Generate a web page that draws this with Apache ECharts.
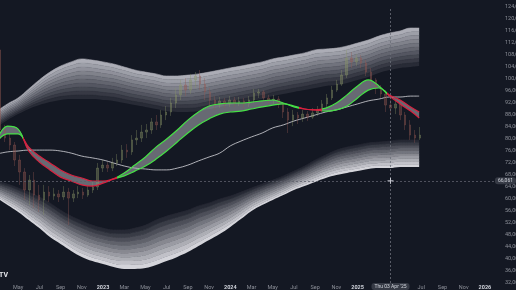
<!DOCTYPE html>
<html><head><meta charset="utf-8">
<script src="https://cdn.jsdelivr.net/npm/echarts@6/dist/echarts.min.js"></script>
<style>html,body{margin:0;padding:0;background:#141823;overflow:hidden}#c{width:516px;height:290px}</style>
</head><body><div id="c"></div>
<script>
// ---- data (prices in thousands of USD) ----
// month index: 0 = Jan 2022
const months = [2,3,4,5,6,7,8,9,10,11,12,13,14,15,16,17,18,19,20,21,22,23,24,25,26,27,28,29,30,31,32,33,34,35,36,37,38,39,40,41,41.8];
const upperTop = [89.3,91.7,93.7,96.7,99.7,102.3,104.3,105.7,106.7,106.3,105.7,105.0,104.0,103.0,102.3,101.7,101.0,101.0,101.3,101.7,102.3,103.0,103.7,104.3,105.0,105.7,106.7,107.3,108.0,108.7,109.7,110.0,110.3,111.0,112.0,113.0,114.3,115.3,116.0,117.0,117.0];
const upperBottom = [84.0,86.3,88.3,90.0,91.3,92.3,93.0,93.3,93.3,93.3,93.0,92.7,92.0,91.3,90.7,90.0,89.3,89.0,89.0,89.3,90.0,90.7,91.3,92.0,92.7,93.3,94.3,95.0,95.7,96.3,97.0,97.7,98.0,98.7,99.7,100.7,102.0,103.0,103.7,104.0,104.3];
const lowerTop = [66.0,65.0,63.7,62.3,60.7,58.7,56.3,54.3,52.7,51.3,50.3,49.7,49.7,50.3,51.3,53.0,54.3,55.3,56.3,57.7,58.7,60.0,61.0,62.3,63.7,65.0,66.3,67.7,69.3,71.0,73.0,74.7,76.3,77.3,78.0,78.7,79.0,79.3,79.7,79.7,79.7];
const lowerBottom = [60.3,58.0,55.7,53.0,50.3,47.3,45.0,42.7,40.7,39.3,38.3,37.3,36.7,36.7,37.0,38.0,39.3,40.7,42.3,44.3,46.3,48.3,50.7,53.3,56.0,58.0,59.7,61.3,63.0,64.3,65.7,67.0,68.0,68.7,69.3,70.0,70.3,70.3,70.7,70.7,70.7];
const fastMA = [79.7,84.3,83.3,76.0,72.3,69.7,67.3,66.0,64.7,64.3,65.3,66.7,68.7,71.3,74.0,77.3,80.0,83.0,86.3,89.0,91.0,91.7,92.0,92.0,92.3,92.7,93.0,92.0,90.7,90.0,89.7,90.3,92.0,94.7,97.7,99.7,97.7,94.3,91.7,89.3,87.0];
const slowMA = [79.0,81.7,81.7,77.3,74.3,72.0,69.7,68.0,67.0,66.0,66.0,66.7,67.7,69.3,71.0,73.3,76.0,79.0,82.0,84.7,86.7,88.3,89.0,89.3,90.0,90.7,91.3,91.7,91.0,90.0,89.7,89.3,89.7,91.0,93.7,96.3,97.0,94.7,93.0,90.7,89.0];
const longMA = [75.0,75.7,76.0,76.3,76.3,76.3,76.0,75.3,74.3,73.7,73.0,72.0,71.0,70.3,70.0,69.7,69.7,70.3,71.3,72.7,74.0,75.3,77.7,79.3,80.7,82.0,83.7,84.7,86.0,87.0,88.0,89.0,89.7,90.7,91.7,92.7,93.3,94.0,94.0,94.3,94.3];
// falling (red) stretches of the ribbon, month index ranges
const redRanges = [[4.46,13.3],[30.5,32.6],[38.8,99]];
// bi-weekly candles
const candleStart = 2.3, candleStep = 0.46;
const firstOpen = 109.7;
const closes = [83.0,80.3,78.0,73.0,69.0,63.0,66.3,61.3,59.7,62.3,61.0,61.7,60.7,62.3,60.3,61.7,62.3,61.3,63.0,64.0,70.3,71.3,70.3,72.0,73.0,76.3,75.7,79.7,80.3,82.3,83.0,85.7,84.7,88.0,89.0,92.0,94.7,98.0,96.3,99.7,101.0,98.3,95.7,93.0,91.7,92.7,91.7,93.0,92.0,92.7,91.7,93.0,95.3,95.7,93.7,93.0,93.3,91.7,89.0,86.3,88.0,87.0,88.3,87.3,88.7,89.7,91.7,93.7,96.3,98.3,101.3,107.0,105.7,107.0,105.3,102.3,99.7,97.0,95.0,91.3,90.3,91.7,88.0,84.7,81.3,80.3,81.3];
const highs = [117.0,84.7,82.0,79.0,74.7,70.3,68.0,69.0,64.7,64.7,64.3,63.7,63.0,64.3,63.7,63.0,64.3,63.7,64.3,65.7,72.0,73.0,72.3,73.7,75.0,78.0,78.3,81.3,83.0,84.7,85.0,87.0,88.0,89.7,91.0,93.7,97.0,99.7,100.3,101.7,102.3,103.0,100.3,97.0,94.3,94.0,93.7,94.3,94.0,94.0,93.7,94.3,96.7,96.7,96.3,94.7,94.7,94.3,92.3,90.3,89.7,89.0,89.7,89.3,90.3,91.0,93.0,95.0,97.7,99.7,103.0,109.7,109.0,108.3,108.0,106.3,103.7,100.3,98.0,96.3,93.0,93.0,92.3,89.0,86.3,83.0,84.0];
const lows = [79.7,79.0,76.3,71.0,64.7,59.7,58.0,57.0,55.7,54.7,59.0,59.7,59.0,59.7,51.3,59.0,60.3,60.0,60.7,62.0,63.0,69.0,69.0,69.3,71.0,72.0,73.7,74.7,78.0,79.0,80.3,81.7,83.0,83.7,86.3,87.7,90.3,93.0,94.3,95.0,97.0,96.3,93.0,91.0,89.7,90.3,90.3,90.7,90.7,91.0,90.3,90.7,92.0,93.7,92.3,91.7,91.7,90.3,87.0,82.0,84.3,85.0,85.7,86.0,86.7,87.7,89.0,90.7,93.0,95.7,97.7,100.3,103.7,104.3,103.7,101.0,97.7,95.0,93.7,89.0,88.3,88.3,86.3,83.0,79.7,78.7,79.7];
const lastPriceText = ['81,341', '14:42:31'];
const crossMonth = 39.1, crossPrice = 66061, crossDate = "Thu 03 Apr '25";
const monthTicks = [4,6,8,10,12,14,16,18,20,22,24,26,28,30,32,34,36,42,44,46,48];
const monthNames = ['', '', 'Mar', '', 'May', '', 'Jul', '', 'Sep', '', 'Nov', ''];
const yTicks = {min: 32000, max: 124000, step: 4000};

// ---- build ----
const K = 1000;
const T0 = Date.UTC(2022, 0, 1), MONTH = 365.25 / 12 * 86400000;
const tm = m => T0 + m * MONTH;
const chart = echarts.init(document.getElementById('c'), null, {renderer: 'canvas'});
const series = [];
const N = 10;
function mix(a, b, t) { return 'rgb(' + a.map((v, i) => Math.round(v + (b[i] - v) * t)).join(',') + ')'; }
function band(top, bot, name, cBot, cTop) {
  series.push({type: 'line', stack: name, data: months.map((m, i) => [tm(m), bot[i] * K]), smooth: 0.4,
    symbol: 'none', lineStyle: {width: 0, opacity: 0}, silent: true, z: 1});
  for (let k = 0; k < N; k++) {
    const c = mix(cBot, cTop, k / (N - 1));
    series.push({type: 'line', stack: name, data: months.map((m, i) => [tm(m), (top[i] - bot[i]) * K / N]),
      smooth: 0.4, symbol: 'none', lineStyle: {width: 0.6, color: c},
      areaStyle: {color: c, opacity: 1}, silent: true, z: 1});
  }
}
band(upperTop, upperBottom, 'up', [40, 43, 54], [172, 173, 182]);
band(lowerTop, lowerBottom, 'lo', [212, 212, 218], [38, 41, 52]);

// long MA
series.push({type: 'line', data: months.map((m, i) => [tm(m), longMA[i] * K]), smooth: 0.4, symbol: 'none',
  lineStyle: {color: 'rgba(225,225,230,0.85)', width: 0.9}, silent: true, z: 2});

// ribbon fill
series.push({type: 'line', stack: 'rib', data: months.map((m, i) => [tm(m), Math.min(fastMA[i], slowMA[i]) * K]),
  smooth: 0.4, symbol: 'none', lineStyle: {width: 0, opacity: 0}, silent: true, z: 3});
series.push({type: 'line', stack: 'rib', data: months.map((m, i) => [tm(m), Math.abs(fastMA[i] - slowMA[i]) * K]),
  smooth: 0.4, symbol: 'none', lineStyle: {width: 0, opacity: 0},
  areaStyle: {color: 'rgba(170,171,178,0.8)'}, silent: true, z: 3});

// candles
const candleData = closes.map((c, i) => {
  const o = i === 0 ? firstOpen : closes[i - 1];
  return [tm(candleStart + candleStep * i), o * K, c * K, lows[i] * K, highs[i] * K];
});
series.push({type: 'candlestick', data: candleData, encode: {x: 0, y: [1, 2, 3, 4]}, barWidth: 2, z: 4,
  itemStyle: {color: 'rgba(138,148,104,0.42)', color0: 'rgba(150,88,82,0.42)',
    borderColor: 'rgba(138,148,104,0.5)', borderColor0: 'rgba(150,88,82,0.5)', borderWidth: 0.7},
  markLine: {symbol: 'none', silent: true, data: [{yAxis: closes[closes.length - 1] * K}],
    lineStyle: {opacity: 0},
    label: {position: 'end', distance: 1, formatter: lastPriceText.join('\n'), backgroundColor: '#8fdc8a',
      color: '#0f3d12', fontSize: 4.6, lineHeight: 4.6, padding: [1, 2, 0, 2], fontFamily: 'Roboto'}}});

// ribbon lines
const fastIdx = series.length;
series.push({type: 'line', data: months.map((m, i) => [tm(m), fastMA[i] * K]), smooth: 0.4, symbol: 'none',
  lineStyle: {width: 1.2}, silent: true, z: 5});
const slowIdx = series.length;
series.push({type: 'line', data: months.map((m, i) => [tm(m), slowMA[i] * K]), smooth: 0.4, symbol: 'none',
  lineStyle: {width: 1.2}, silent: true, z: 5});

const GREEN = '#45e045', RED = '#d8203e';
const pieces = [];
let prev = -99;
redRanges.forEach(r => { pieces.push({gte: tm(prev), lt: tm(r[0]), color: GREEN}); pieces.push({gte: tm(r[0]), lt: tm(r[1]), color: RED}); prev = r[1]; });
pieces.push({gte: tm(prev), color: GREEN});

const mMin = 2.292, mMax = 49.42;
chart.setOption({
  backgroundColor: '#141823',
  animation: false,
  grid: {left: 0, right: 16, top: 7, bottom: 7, containLabel: false, outerBoundsMode: 'none'},
  visualMap: {type: 'piecewise', show: false, dimension: 0, seriesIndex: [fastIdx, slowIdx], pieces: pieces},
  xAxis: [{type: 'time', min: tm(mMin), max: tm(mMax),
    axisLine: {show: false}, axisTick: {show: false}, splitLine: {show: false}, axisLabel: {show: false},
    axisPointer: {show: true, status: 'show', value: tm(crossMonth), snap: false, triggerTooltip: false,
      lineStyle: {color: '#6b6e79', width: 0.8, type: [2, 2]},
      label: {show: true, formatter: () => crossDate, backgroundColor: '#363a45', color: '#d1d4dc',
        fontSize: 5, padding: [1, 3], margin: 1, fontFamily: 'Roboto'}}},
    {type: 'value', min: mMin, max: mMax, position: 'bottom',
    axisLine: {show: false}, axisTick: {show: false}, splitLine: {show: false},
    axisLabel: {customValues: monthTicks, fontSize: 5.5, color: '#8c8f98', margin: 2, fontFamily: 'Roboto',
      formatter: v => { const mo = ((v % 12) + 12) % 12; return mo === 0 ? '{y|' + (2022 + v / 12) + '}' : monthNames[mo]; },
      rich: {y: {fontSize: 5.5, color: '#d1d4dc', fontWeight: 'bold', fontFamily: 'Roboto'}}}}],
  yAxis: {type: 'value', position: 'right', min: yTicks.min, max: yTicks.max, interval: yTicks.step,
    axisLine: {show: false}, axisTick: {show: false}, splitLine: {show: false},
    axisLabel: {fontSize: 5.5, color: '#8c8f98', margin: 5, fontFamily: 'Roboto',
      formatter: v => v.toLocaleString('en-US')},
    axisPointer: {show: true, status: 'show', value: crossPrice, snap: false, triggerTooltip: false,
      lineStyle: {color: '#5e616c', width: 0.8, type: [2, 2]},
      label: {show: true, formatter: p => Math.round(p.value).toLocaleString('en-US'), backgroundColor: '#363a45',
        color: '#d1d4dc', fontSize: 5, padding: [1, 3], margin: 1, fontFamily: 'Roboto'}}},
  series: series
});

const cp = chart.convertToPixel({gridIndex: 0}, [tm(crossMonth), crossPrice]);
chart.setOption({graphic: [
  {type: 'line', shape: {x1: cp[0] - 3, y1: cp[1], x2: cp[0] + 3, y2: cp[1]}, style: {stroke: '#c8cad2', lineWidth: 1}, z: 100},
  {type: 'line', shape: {x1: cp[0], y1: cp[1] - 3, x2: cp[0], y2: cp[1] + 3}, style: {stroke: '#c8cad2', lineWidth: 1}, z: 100},
  {type: 'text', left: -1, top: 272, style: {text: 'TV', fill: '#e6e7ec', font: 'bold 7px Roboto'}, z: 100}
]});
</script>
</body></html>
